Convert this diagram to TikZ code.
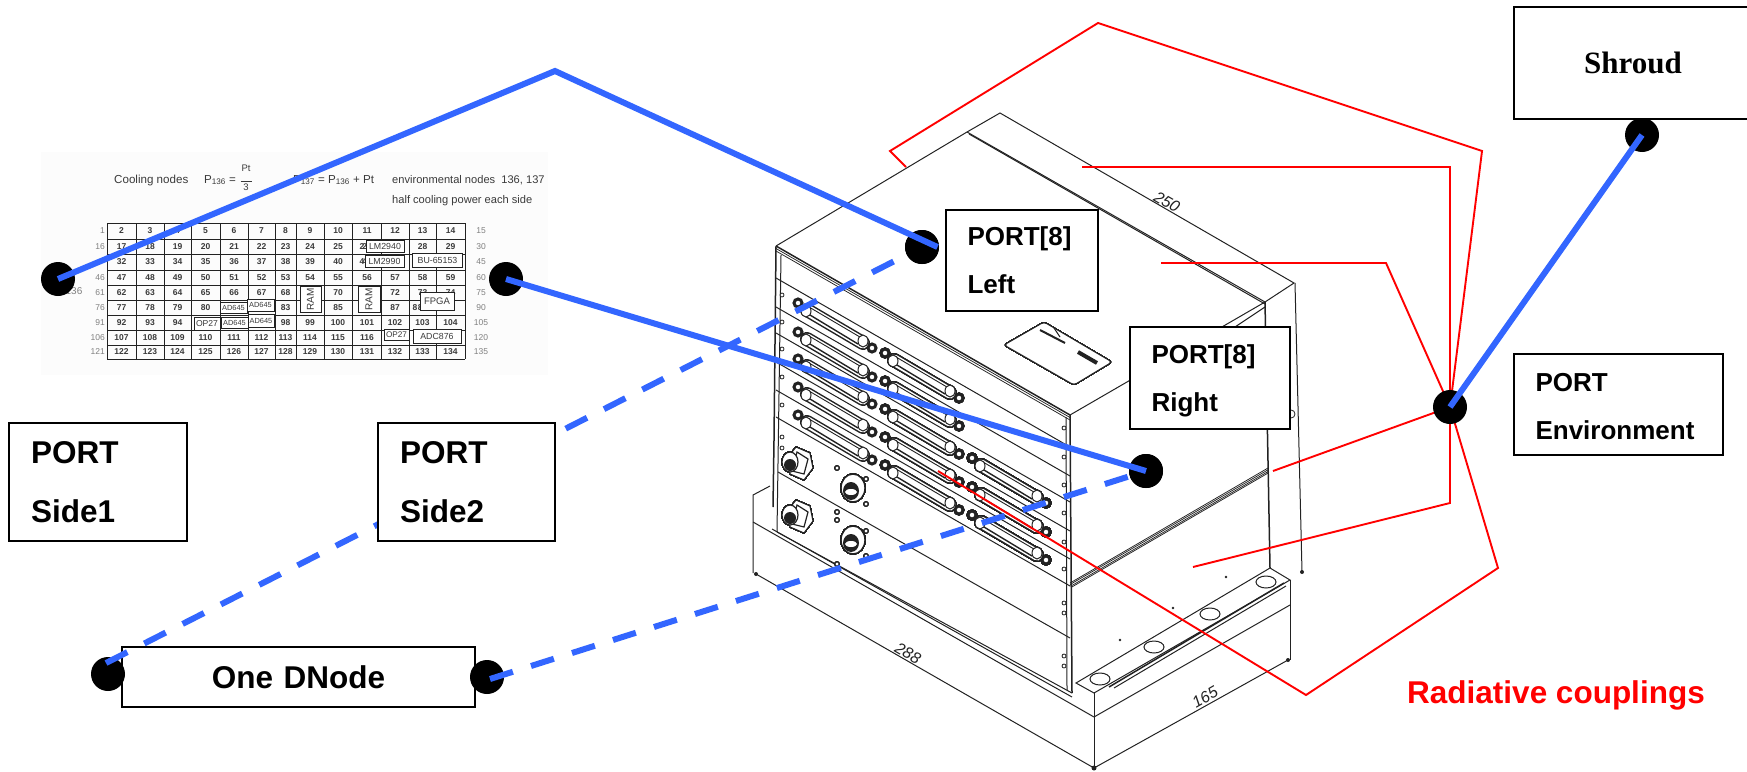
\documentclass[tikz,border=0pt]{standalone}
\usepackage{fontspec}
\setmainfont{Liberation Sans}
\newfontfamily\shroudfont{Liberation Serif}
\usetikzlibrary{shapes.geometric}
\pgfdeclarelayer{art}
\pgfdeclarelayer{redl}
\pgfsetlayers{art,redl,main}
\definecolor{bluel}{HTML}{3366FF}
\definecolor{ink}{HTML}{222222}
\definecolor{scan}{HTML}{3A3A3A}
\tikzset{
  boxbase/.style={draw=black,fill=white,line width=1.8pt,rectangle,inner ysep=0pt,outer sep=0pt,align=left},
  bigbox/.style={boxbase,inner xsep=22pt,font=\fontsize{31.5}{59}\selectfont\bfseries},
  midbox/.style={boxbase,inner xsep=21.5pt,font=\fontsize{26}{48}\selectfont\bfseries},
  port/.style={circle,fill=black,inner sep=0pt,minimum size=34pt,outer sep=0pt},
  solidlink/.style={bluel,line width=6pt},
  dashlink/.style={bluel,line width=6pt,dash pattern=on 24pt off 19pt},
  rad/.style={red,line width=1.9pt,line join=miter},
  ln/.style={ink,line width=1pt},
  lnb/.style={ink,line width=1.5pt},
  lnt/.style={ink,line width=.75pt},
  cellnum/.style={scan,font=\fontsize{8.5}{9}\selectfont\bfseries,inner sep=0pt},
  chip/.style={draw=ink,fill=white,line width=1pt,inner sep=0pt,font=\fontsize{8.8}{9}\selectfont,text=scan},
  adchip/.style={chip,font=\fontsize{7.4}{8}\selectfont},
  edgeno/.style={gray,font=\fontsize{8.5}{9}\selectfont,inner sep=0pt},
  head/.style={scan,font=\fontsize{11.6}{13}\selectfont,inner sep=0pt,anchor=base west},
  headb/.style={head,font=\fontsize{11.1}{13}\selectfont},
  dim/.style={ink,font=\fontsize{16}{18}\selectfont\itshape,inner sep=0pt},
  hole/.style={ink,line width=.8pt,fill=white}
}
\makeatletter
\newcommand{\cellnode}[3]{% number, x, y : numbers wholly under a chip are not printed
  \in@{,#1,}{,26,27,41,42,43,44,69,71,81,82,84,86,88,89,95,96,97,117,118,119,}%
  \ifin@\else\node[cellnum] (cell#1) at (#2,#3) {#1};\fi}
\makeatother
\newcommand{\dbcon}[2]{%
  \begin{scope}[shift={(#1,#2)}]
    \draw[ink,line width=14pt,line cap=round] (9,7) -- (65,40);
    \draw[white,line width=11pt,line cap=round] (9,7) -- (65,40);
    \draw[ink,line width=.9pt] (11,4) -- (67,37);
    \draw[ink,line width=1.4pt] (7,9) -- (60,41);
    \draw[ink,line width=3pt,fill=white] (0,0) circle[radius=4];
    \draw[ink,line width=3pt,fill=white] (74,45) circle[radius=4];
    \draw[ink,line width=1pt,fill=white] (8,8) ellipse[x radius=5,y radius=6];
    \draw[ink,line width=1pt,fill=white] (65,38) ellipse[x radius=5,y radius=6];
  \end{scope}}
\newcommand{\roundcon}[2]{%
  \begin{scope}[shift={(#1,#2)}]
    \draw[ink,line width=1.4pt,fill=white] (0,0) ellipse[x radius=12,y radius=14];
    \fill[ink] (-2,3) ellipse[x radius=8,y radius=9];
    \fill[white] (-2,4) ellipse[x radius=6,y radius=3];
    \draw[hole] (-16,-20) circle[radius=2];
    \draw[hole] (13,-9) circle[radius=2];
    \draw[hole] (13,16) circle[radius=2];
    \draw[hole] (-16,24) circle[radius=2];
  \end{scope}}
\newcommand{\hexcon}[2]{%
  \begin{scope}[shift={(#1,#2)}]
    \draw[ink,line width=1.1pt,fill=white] (-2,-15) -- (12,-9) -- (15,6) -- (6,18) -- (-8,12) -- (-10,-5) -- cycle;
    \draw[ink,line width=1.2pt,fill=white] (-1,-10) -- (10,-3) -- (6,12) -- (-6,9) -- cycle;
    \draw[ink,line width=1.2pt,fill=white] (-8,0) ellipse[x radius=8,y radius=10];
    \fill[ink] (-8,3) ellipse[x radius=6,y radius=6];
  \end{scope}}
\begin{document}
\begin{tikzpicture}[x=1pt,y=-1pt]
\useasboundingbox (0,0) rectangle (1747,771);

% ---------- scanned artwork ----------
\begin{pgfonlayer}{art}
  \fill[black!1] (41,152) rectangle (548,375);
  % table header
  \node[head] (h1) at (114,183) {Cooling nodes};
  \node[head] (h2) at (204,183) {P\textsubscript{136} =};
  \node[scan,inner sep=0pt,font=\fontsize{9.5}{11}\selectfont,align=center] (h3) at (246,178) {Pt\\[-1pt]\rule{11pt}{.5pt}\\[-2pt]3};
  \node[head] (h4) at (293,183) {P\textsubscript{137} = P\textsubscript{136} + Pt};
  \node[headb] (h5) at (392,183) {environmental nodes\ \ 136, 137};
  \node[headb] (h6) at (392,203) {half cooling power each side};
  \node[edgeno] (h7) at (74,291) {\fontsize{10}{10}\selectfont 136};
  % table grid
  \foreach \gx in {107,136,164,191,220,248,275,296,324,352.5,381,409,436,465}
    \draw[ink,line width=.9pt] (\gx,223) -- (\gx,359);
  \foreach \gy in {223,239,254,270,285,300,315,330,345,359}
    \draw[ink,line width=.9pt] (107,\gy) -- (465,\gy);
  \foreach \cx [count=\c] in {121.5,150,177.5,205.5,234,261.5,285.5,310,338,367,395,422.5,450.5}
    \foreach \ry [count=\r] in {231,246.5,262,277.5,292.5,307.5,322.5,337.5,352} {
      \pgfmathtruncatemacro{\nn}{15*(\r-1)+1+\c}
      \cellnode{\nn}{\cx}{\ry}
    }
  \foreach \na/\nb/\ry in {1/15/231,16/30/246.5,46/60/277.5,61/75/292.5,76/90/307.5,91/105/322.5,106/120/337.5,121/135/352} {
      \node[edgeno,anchor=east] (le\na) at (105,\ry) {\na};
      \node[edgeno] (re\nb) at (481,\ry) {\nb};
  }
  \node[edgeno] (re45) at (481,262) {45};
  % digits that a chip leaves showing
  \node[cellnum] (part26) at (362,246.5) {2};
  \node[cellnum] (part41) at (362,262) {4};
  \node[cellnum] (part88) at (415,307.5) {8};
  % chips on the table
  \node[chip,minimum width=38pt,minimum height=12pt] (c1) at (385,246) {LM2940};
  \node[chip,minimum width=39pt,minimum height=12pt] (c2) at (384.5,261) {LM2990};
  \node[chip,minimum width=50pt,minimum height=14pt] (c3) at (437.5,260) {BU-65153};
  \node[chip,rotate=90,minimum height=21pt,minimum width=26pt,font=\fontsize{10}{10}\selectfont] (c4) at (310.5,299.5) {RAM};
  \node[chip,rotate=90,minimum height=22pt,minimum width=26pt,font=\fontsize{10}{10}\selectfont] (c5) at (369,299.5) {RAM};
  \node[chip,minimum width=34pt,minimum height=18pt,font=\fontsize{9.5}{10}\selectfont] (c6) at (437,301) {FPGA};
  \node[adchip,minimum width=27pt,minimum height=11pt] (c7) at (233.5,307.5) {AD645};
  \node[adchip,minimum width=27pt,minimum height=12pt] (c8) at (260.5,305) {AD645};
  \node[adchip,minimum width=27pt,minimum height=11pt] (c9) at (234.5,322.5) {AD645};
  \node[adchip,minimum width=26pt,minimum height=13pt] (c10) at (261,320.5) {AD645};
  \node[chip,minimum width=26pt,minimum height=13pt,font=\fontsize{8.6}{9}\selectfont] (c11) at (207,323.5) {OP27};
  \node[chip,minimum width=25pt,minimum height=11pt,font=\fontsize{8.2}{9}\selectfont] (c12) at (396.5,334.5) {OP27};
  \node[chip,minimum width=48pt,minimum height=14pt] (c13) at (437,336) {ADC876};

  % enclosure: lid
  \draw[ln] (776,246) -- (967,132) -- (1000,113) -- (1294,283) -- (1265,302) -- (1070,415);
  \draw[ln] (967,132) -- (1265,302);
  \draw[ln] (969,134) -- (1265,304);
  \draw[ln] (1235,327) -- (1265,307);
  % front top edge
  \draw[lnb] (776,246) -- (1070,415);
  \draw[lnt] (776,248.5) -- (1070,417.5);
  \draw[lnt] (776,251) -- (1070,420);
  % right side of unit
  \draw[lnb] (1265,302) -- (1270,568);
  \draw[ln] (1295,283) -- (1302,572);
  \draw[lnt] (1070,583) -- (1268,468);
  \draw[lnt] (1070,584.5) -- (1268.5,469.5);
  \draw[lnt] (1071,586) -- (1269,471);
  \draw[lnt] (1071,587.5) -- (1269,472.5);
  \fill[ink] (1302,572) circle[radius=2];
  \draw[ink,line width=.8pt] (1291,414) circle[radius=4];
  % front panel
  \draw[lnb] (776,246) -- (774,440) -- (773,507);
  \draw[ln] (781,255) -- (777,532);
  \draw[lnb] (1070,415) -- (1072,693);
  \draw[ln] (1066,417) -- (1067,690);
  \foreach \yy in {278,307,333,362,390,417}
    \draw[ln] (776,\yy) -- (1070,{\yy+169});
  \draw[ln] (778,472) -- (1070,638);
  \draw[ln] (777,532) -- (1072,693);
  \draw[ln] (772,529) -- (1072,697);
  % screw holes
  \foreach \yy in {295,322,349,377,405,437,448}
    \draw[hole] (782,\yy) circle[radius=2];
  \foreach \yy in {428,457,485,513,542,569,603,613,656,666}
    \draw[hole] (1064,\yy) circle[radius=2];
  % sub-D connectors
  \foreach \yy in {303,332,359,387,415} \dbcon{798}{\yy}
  \foreach \yy in {353,381,409,437,465} \dbcon{885}{\yy}
  \foreach \yy in {458,487,515} \dbcon{972}{\yy}
  % round connectors
  \hexcon{798}{462}
  \hexcon{798}{515}
  \roundcon{853}{488}
  \roundcon{853}{540}
  % label plate
  \draw[ink,line width=1pt,rounded corners=3pt,fill=white] (1004,345) -- (1044,322) -- (1112,362) -- (1074,385) -- cycle;
  \draw[ink,line width=2pt] (1040,330) -- (1065,343);
  \draw[ink,line width=1pt] (1054,328) -- (1060,337);
  \draw[ink,line width=4pt] (1078,352) -- (1097,363);
  % base
  \draw[ln] (770,486) -- (753,495) -- (753,573);
  \draw[ln] (753,522) -- (1094,717);
  \draw[ln] (1094,692) -- (1094,768);
  \draw[ln] (756,574) -- (1094,768) -- (1288,660);
  \fill[ink] (756,574) circle[radius=2];
  \fill[ink] (1094,768) circle[radius=2.5];
  \fill[ink] (1288,660) circle[radius=2];
  \draw[ln] (1076,683) -- (1270,568) -- (1290,580) -- (1094,693) -- cycle;
  \draw[ln] (1094,717) -- (1290,605);
  \draw[ln] (1290,580) -- (1290,660);
  \draw[lnb] (1109,687) -- (1284,583);
  \draw[ln] (1114,688) -- (1286,586);
  \foreach \hx/\hy in {1100/679,1154/647,1210/614,1266/582}
    \draw[ink,line width=1pt,fill=white] (\hx,\hy) ellipse[x radius=10,y radius=6];
  \foreach \hx/\hy in {1120/640,1173/608,1226/577}
    \fill[ink] (\hx,\hy) circle[radius=1.3];
  % dimensions
  \node[dim,rotate=-30] (d250) at (1167,202) {250};
  \node[dim,rotate=-30] (d288) at (908,653) {288};
  \node[dim,rotate=30] (d165) at (1205,697) {165};
\end{pgfonlayer}

% ---------- labelled boxes and ports ----------
\node[bigbox,minimum height=60pt,inner xsep=0pt,align=center,text width=353pt] (dnode) at (298.5,677) {One DNode};
\node[bigbox,minimum height=118pt,text width=134pt] (side1) at (98,482) {PORT\\Side1};
\node[boxbase,minimum width=238pt,minimum height=112pt,inner sep=0pt] (shroud) at (1633,63) {\shroudfont\fontsize{31}{36}\selectfont\bfseries Shroud};
\node[midbox,minimum height=101pt,text width=109pt] (left) at (1022,260.5) {PORT[8]\\Left};
\node[midbox,minimum height=102pt,text width=117pt] (right) at (1210,378) {\rule{0pt}{25pt}PORT[8]\\Right};
\node[midbox,minimum height=101pt,text width=166pt] (env) at (1618.5,404.5) {\rule{0pt}{23pt}PORT\\Environment};

\node[port] (pside1) at (58,279) {};
\node[port] (pside2) at (506,279) {};
\node[port] (pleft) at (922,247) {};
\node[port] (pright) at (1146,471) {};
\node[port] (pshroud) at (1642,135) {};
\node[port] (penv) at (1450,407) {};
\node[port] (pdl) at (108,674) {};
\node[port] (pdr) at (487,677) {};
\coordinate (apex) at (555,71);

% ---------- radiative couplings ----------
\begin{pgfonlayer}{redl}
  \coordinate (r1a) at (906,167);
  \coordinate (r2a) at (1082,167);
  \coordinate (r3a) at (1161,263);
  \coordinate (r4a) at (1273,471);
  \coordinate (r5a) at (1193,567);
  \coordinate (r6a) at (938,471);
  \draw[rad] (penv.center) -- (1482,151) -- (1098,23) -- (890,151) -- (r1a);
  \draw[rad] (penv.center) -- (1450,167) -- (r2a);
  \draw[rad] (penv.center) -- (1386,263) -- (r3a);
  \draw[rad] (penv.center) -- (r4a);
  \draw[rad] (penv.center) -- (1450,503) -- (r5a);
  \draw[rad] (penv.center) -- (1498,568) -- (1306,695) -- (r6a);
\end{pgfonlayer}

% ---------- dashed links, then what hides them ----------
\coordinate (dla) at (106,663);
\coordinate (dra) at (490,679);
\draw[dashlink] (dla) -- (pleft.center);
\draw[dashlink] (dra) -- (pright.center);
\node[port] (pleftb) at (pleft.center) {};
\node[port] (prightb) at (pright.center) {};
\node[bigbox,minimum height=118pt,text width=133pt] (side2) at (466.5,482) {PORT\\Side2};

% ---------- solid links ----------
\draw[solidlink,line join=miter] (pside1.center) -- (apex) -- (937.5,247);
\draw[solidlink] (pside2.center) -- (pright.center);
\draw[solidlink] (pshroud.center) -- (penv.center);

\node[red,font=\fontsize{31.5}{36}\selectfont\bfseries,anchor=base west,inner sep=0pt] (radlabel) at (1407,703) {Radiative couplings};
\end{tikzpicture}
\end{document}
